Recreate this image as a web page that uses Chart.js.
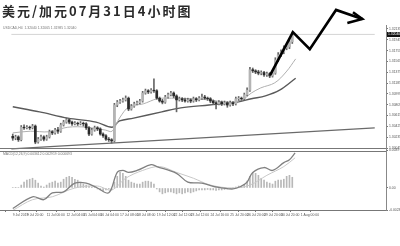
<!DOCTYPE html>
<html>
<head>
<meta charset="utf-8">
<script src="https://cdn.jsdelivr.net/npm/chart.js@4.4.1/dist/chart.umd.min.js"></script>
<style>
html, body { margin: 0; padding: 0; background: #fff; }
#wrap { position: relative; width: 400px; height: 246px; overflow: hidden; }
#title { position: absolute; left: 2px; top: 1px; font-family: "Noto Sans CJK SC"; font-size: 13px; font-weight: bold; letter-spacing: 2px; color: #2a2a2a; white-space: nowrap; }
canvas { position: absolute; left: 0; top: 0; }
</style>
</head>
<body>
<div id="wrap">
  <canvas id="chart" width="400" height="246"></canvas>
  <div id="title">美元/加元07月31日4小时图</div>
</div>
<script>
// H4 candles, USDCAD
const opens = [
  1.3025,1.3022,1.3024,1.3019,1.3041,1.3040,1.3041,1.3040,1.3043,1.3015,
  1.3020,1.3024,1.3020,1.3024,1.3033,1.3031,1.3036,1.3034,1.3045,1.3050,
  1.3054,1.3050,1.3047,1.3048,1.3047,1.3048,1.3047,1.3040,1.3029,1.3036,
  1.3040,1.3038,1.3029,1.3026,1.3020,1.3019,1.3017,1.3080,1.3085,1.3087,
  1.3089,1.3092,1.3073,1.3078,1.3082,1.3084,1.3087,1.3101,1.3105,1.3103,
  1.3106,1.3105,1.3092,1.3087,1.3085,1.3094,1.3098,1.3101,1.3096,1.3089,
  1.3091,1.3089,1.3087,1.3089,1.3087,1.3091,1.3089,1.3092,1.3094,1.3092,
  1.3091,1.3087,1.3084,1.3082,1.3085,1.3082,1.3084,1.3080,1.3084,1.3082,
  1.3091,1.3092,1.3091,1.3098,1.3106,1.3142,1.3140,1.3138,1.3136,1.3137,
  1.3133,1.3135,1.3131,1.3136,1.3159,1.3168,1.3173,1.3180,1.3182,1.3191
];
const highs = [
  1.3029,1.3027,1.3026,1.3044,1.3045,1.3044,1.3043,1.3046,1.3045,1.3023,
  1.3027,1.3026,1.3027,1.3036,1.3035,1.3039,1.3041,1.3048,1.3053,1.3057,
  1.3056,1.3052,1.3051,1.3050,1.3051,1.3050,1.3049,1.3042,1.3039,1.3043,
  1.3042,1.3040,1.3031,1.3028,1.3023,1.3021,1.3083,1.3088,1.3090,1.3092,
  1.3096,1.3094,1.3081,1.3085,1.3087,1.3090,1.3104,1.3108,1.3107,1.3109,
  1.3126,1.3107,1.3094,1.3090,1.3097,1.3101,1.3104,1.3103,1.3098,1.3094,
  1.3093,1.3092,1.3092,1.3091,1.3094,1.3093,1.3095,1.3099,1.3097,1.3094,
  1.3093,1.3089,1.3086,1.3088,1.3087,1.3087,1.3086,1.3087,1.3086,1.3094,
  1.3095,1.3094,1.3101,1.3110,1.3146,1.3145,1.3142,1.3141,1.3140,1.3139,
  1.3138,1.3137,1.3140,1.3163,1.3172,1.3177,1.3184,1.3186,1.3195,1.3208
];
const lows = [
  1.3018,1.3019,1.3016,1.3017,1.3037,1.3038,1.3037,1.3038,1.3012,1.3013,
  1.3018,1.3017,1.3018,1.3022,1.3028,1.3029,1.3030,1.3032,1.3043,1.3048,
  1.3047,1.3044,1.3045,1.3044,1.3045,1.3043,1.3037,1.3026,1.3027,1.3034,
  1.3035,1.3027,1.3023,1.3018,1.3016,1.3013,1.3015,1.3077,1.3083,1.3085,
  1.3087,1.3070,1.3071,1.3076,1.3080,1.3082,1.3085,1.3099,1.3100,1.3101,
  1.3102,1.3090,1.3085,1.3082,1.3083,1.3092,1.3096,1.3093,1.3068,1.3087,
  1.3086,1.3085,1.3085,1.3084,1.3085,1.3086,1.3087,1.3090,1.3090,1.3088,
  1.3084,1.3081,1.3073,1.3080,1.3079,1.3080,1.3076,1.3078,1.3079,1.3080,
  1.3088,1.3088,1.3089,1.3096,1.3104,1.3137,1.3135,1.3133,1.3133,1.3130,
  1.3130,1.3128,1.3129,1.3134,1.3156,1.3165,1.3170,1.3177,1.3179,1.3188
];
const closes = [
  1.3022,1.3024,1.3019,1.3041,1.3040,1.3041,1.3040,1.3043,1.3015,1.3020,
  1.3024,1.3020,1.3024,1.3033,1.3031,1.3036,1.3034,1.3045,1.3050,1.3054,
  1.3050,1.3047,1.3048,1.3047,1.3048,1.3047,1.3040,1.3029,1.3036,1.3040,
  1.3038,1.3029,1.3026,1.3020,1.3019,1.3017,1.3080,1.3085,1.3087,1.3089,
  1.3092,1.3073,1.3078,1.3082,1.3084,1.3087,1.3101,1.3105,1.3103,1.3106,
  1.3105,1.3092,1.3087,1.3085,1.3094,1.3098,1.3101,1.3096,1.3089,1.3091,
  1.3089,1.3087,1.3089,1.3087,1.3091,1.3089,1.3092,1.3094,1.3092,1.3091,
  1.3087,1.3084,1.3082,1.3085,1.3082,1.3084,1.3080,1.3084,1.3082,1.3091,
  1.3092,1.3091,1.3098,1.3106,1.3142,1.3140,1.3138,1.3136,1.3137,1.3133,
  1.3135,1.3131,1.3136,1.3159,1.3168,1.3173,1.3180,1.3182,1.3191,1.3204
];

const maFastIdx = [0, 6.2, 12.8, 19.5, 26.2, 32.8, 35.2, 37.8, 41.2, 46.2, 51.2, 56.2, 62.8, 69.5, 76.2, 81.2, 84.5, 87.8, 92.8, 96.8, 100.2];
const maFastVal = [1.3031, 1.3034, 1.3033, 1.3041, 1.3041, 1.3036, 1.3034, 1.3057, 1.3077, 1.3082, 1.3091, 1.3092, 1.3091, 1.3089, 1.3085, 1.3089, 1.3101, 1.3110, 1.3119, 1.3138, 1.3161];
const maSlowIdx = [0, 9.5, 19.5, 29.5, 35.2, 37.8, 42.8, 52.8, 59.5, 69.5, 79.5, 84.5, 89.5, 94.5, 100.2];
const maSlowVal = [1.3077, 1.3068, 1.3057, 1.3050, 1.3041, 1.3052, 1.3057, 1.3068, 1.3075, 1.3080, 1.3085, 1.3091, 1.3096, 1.3106, 1.3127];

// trend line and current bid
const trendIdx = [-0.5, 128.2];
const trendVal = [1.3003, 1.3040];
const bidPrice = 1.3204;

// hand drawn arrow
const arrowIdx = [91.2, 99.2, 105.2, 114.5, 123.8];
const arrowVal = [1.3133, 1.3208, 1.3178, 1.3247, 1.3231];
const headIdx = [118.5, 123.8, 120.5];
const headVal = [1.3224, 1.3231, 1.3243];

// MACD panel
const macdHist = [
  0.00005,0.00003,0.00005,0.0003,0.0006,0.0008,0.0009,0.0010,0.0008,0.0005,
  0.0002,0.0001,0.0003,0.0005,0.0006,0.0007,0.0005,0.0006,0.0009,0.0011,
  0.0012,0.0011,0.0009,0.0008,0.0006,0.0004,0.0003,0.0002,0.0001,0.00005,
  -0.0001,-0.0002,-0.0003,-0.0002,-0.0001,-0.0002,0.0006,0.0012,0.0016,0.0015,
  0.0012,0.0008,0.0006,0.0005,0.0004,0.0004,0.0006,0.0007,0.0007,0.0006,
  0.0004,-0.0001,-0.0004,-0.0006,-0.0005,-0.0004,-0.0004,-0.0005,-0.0006,-0.0005,
  -0.0006,-0.0005,-0.0004,-0.0005,-0.0004,-0.0003,-0.0002,-0.0002,-0.0002,-0.00015,
  -0.0002,-0.0002,-0.00025,-0.0002,-0.0002,-0.00015,-0.0001,-0.00005,0.00005,0.0001,
  0.0002,0.0002,0.0003,0.0007,0.0012,0.0016,0.0015,0.0013,0.0010,0.0008,
  0.0006,0.0005,0.0004,0.0007,0.0008,0.0008,0.0009,0.0012,0.0013,0.0011
];
const macdIdx = [0, 7, 11, 14, 18, 22, 26, 30, 34, 37, 39, 41, 44, 49, 51, 58, 62, 67, 72, 78, 81, 83, 85, 89, 92, 96, 98, 100];
const macdVal = [-0.0021, -0.0009, -0.0012, -0.0005, -0.0004, 0.0005, 0.0005, 0.0, -0.0005, 0.0016, 0.0018, 0.0016, 0.0018, 0.0024, 0.0022, 0.0015, 0.0006, 0.0005, 0.0001, -0.0001, 0.0002, 0.0006, 0.0016, 0.0021, 0.0018, 0.0026, 0.0029, 0.0036];
const signalIdx = [0, 7, 14, 22, 30, 35, 40, 46, 52, 58, 64, 70, 78, 84, 90, 96, 100];
const signalVal = [-0.0023, -0.0012, -0.0009, 0.0, 0.0002, -0.0002, 0.0010, 0.0018, 0.0022, 0.0016, 0.0010, 0.0003, 0.0, 0.0003, 0.0013, 0.0022, 0.0031];

// axis ticks
const priceTicks = [1.32135, 1.31945, 1.31755, 1.31565, 1.31375, 1.31185, 1.30995, 1.30805, 1.30615, 1.30425, 1.30235, 1.30045];
const macdTicks = [0.0039, 0, -0.00226];
const timeTickIdx = [0, 5, 12, 19, 25, 31, 38, 44, 51, 57, 63, 70, 77, 83, 89, 95, 102];
const timeTickLabels = ['9 Jul 2019', '9 Jul 20:00', '11 Jul 00:00', '12 Jul 04:00', '15 Jul 04:00', '16 Jul 04:00',
  '17 Jul 08:00', '18 Jul 08:00', '19 Jul 12:00', '22 Jul 12:00', '23 Jul 12:00', '24 Jul 16:00',
  '25 Jul 20:00', '26 Jul 20:00', '29 Jul 20:00', '30 Jul 20:00', '1 Aug 00:00'];

const tinyFont = { family: 'Liberation Sans', size: 3.4 };

const toPoints = (xs, ys) => xs.map((x, i) => ({ x: x, y: ys[i] }));
const bull = closes.map((c, i) => c >= opens[i]);

const panelDecor = {
  id: 'panelDecor',
  afterDraw(chart) {
    const ctx = chart.ctx;
    const a = chart.chartArea;
    const ys = chart.scales.y;
    const ms = chart.scales.y2;
    ctx.save();
    ctx.strokeStyle = '#777';
    ctx.lineWidth = 1;
    ctx.beginPath();
    ctx.moveTo(a.left, Math.round(ys.bottom) - 1.5);
    ctx.lineTo(a.right, Math.round(ys.bottom) - 1.5);
    ctx.moveTo(a.left, Math.round(ms.top) + 1.5);
    ctx.lineTo(a.right, Math.round(ms.top) + 1.5);
    ctx.moveTo(a.left, Math.round(ms.bottom) + 0.5);
    ctx.lineTo(a.right, Math.round(ms.bottom) + 0.5);
    ctx.stroke();

    ctx.fillStyle = '#777';
    ctx.font = '3.4px "Liberation Sans"';
    ctx.textBaseline = 'middle';
    ctx.textAlign = 'left';
    ctx.fillText('USDCAD,H4  1.32040 1.32065 1.31985 1.32040', a.left + 3, ys.top + 3);
    ctx.fillText('MACD(12,26,9) 0.003612 0.002919 0.000693', a.left + 3, ms.top + 4.5);

    // bid label on the price axis
    const yb = ys.getPixelForValue(bidPrice);
    ctx.fillStyle = '#111';
    ctx.fillRect(a.right + 1, Math.round(yb) - 2, 13, 5);
    ctx.fillStyle = '#fff';
    ctx.fillText(bidPrice.toFixed(5), a.right + 2, Math.round(yb) + 0.5);
    ctx.restore();
  }
};

new Chart(document.getElementById('chart'), {
  data: {
    datasets: [
      {
        type: 'line', label: 'arrow', yAxisID: 'y', order: 0,
        data: toPoints(arrowIdx, arrowVal),
        borderColor: '#000', borderWidth: 2.6, pointRadius: 0, tension: 0,
        borderJoinStyle: 'miter', clip: false
      },
      {
        type: 'line', label: 'arrow head', yAxisID: 'y', order: 0,
        data: toPoints(headIdx, headVal),
        borderColor: '#000', borderWidth: 2.6, pointRadius: 0, tension: 0,
        borderJoinStyle: 'miter', clip: false
      },
      {
        type: 'bar', label: 'body', yAxisID: 'y', order: 1, grouped: false,
        data: closes.map((c, i) => ({ x: i, y: [opens[i], c] })),
        backgroundColor: bull.map(b => b ? '#b4b4b4' : '#2a2a2a'),
        barThickness: 2
      },
      {
        type: 'bar', label: 'wick', yAxisID: 'y', order: 2, grouped: false,
        data: highs.map((h, i) => ({ x: i, y: [lows[i], h] })),
        backgroundColor: '#666', barThickness: 1
      },
      {
        type: 'line', label: 'MA fast', yAxisID: 'y', order: 3,
        data: toPoints(maFastIdx, maFastVal),
        borderColor: '#b0b0b0', borderWidth: 1, pointRadius: 0, tension: 0.35
      },
      {
        type: 'line', label: 'MA slow', yAxisID: 'y', order: 3,
        data: toPoints(maSlowIdx, maSlowVal),
        borderColor: '#5a5a5a', borderWidth: 1.4, pointRadius: 0, tension: 0.35
      },
      {
        type: 'line', label: 'trend', yAxisID: 'y', order: 4,
        data: toPoints(trendIdx, trendVal),
        borderColor: '#6a6a6a', borderWidth: 1.2, pointRadius: 0
      },
      {
        type: 'line', label: 'bid', yAxisID: 'y', order: 5,
        data: toPoints(trendIdx, [bidPrice, bidPrice]),
        borderColor: '#d4d4d4', borderWidth: 1, pointRadius: 0
      },
      {
        type: 'bar', label: 'hist', yAxisID: 'y2', order: 6, grouped: false,
        data: macdHist.map((v, i) => ({ x: i, y: v })),
        backgroundColor: '#b8b8b8', barThickness: 1
      },
      {
        type: 'line', label: 'MACD', yAxisID: 'y2', order: 2,
        data: toPoints(macdIdx, macdVal),
        borderColor: '#808080', borderWidth: 1.3, pointRadius: 0, tension: 0.35
      },
      {
        type: 'line', label: 'signal', yAxisID: 'y2', order: 3,
        data: toPoints(signalIdx, signalVal),
        borderColor: '#c8c8c8', borderWidth: 1, pointRadius: 0, tension: 0.35
      }
    ]
  },
  options: {
    responsive: false,
    animation: false,
    devicePixelRatio: 1,
    layout: { padding: { top: 25, bottom: 28, left: 0, right: 0 } },
    plugins: { legend: { display: false }, tooltip: { enabled: false }, title: { display: false } },
    scales: {
      x: {
        type: 'linear', min: -0.5, max: 128.17,
        afterFit: s => { s.height = 8; },
        afterBuildTicks: s => { s.ticks = timeTickIdx.map(v => ({ value: v })); },
        grid: { drawOnChartArea: false, drawTicks: true, tickLength: 2, color: '#777' },
        border: { display: true, color: '#888' },
        ticks: {
          font: tinyFont, color: '#555', padding: 1, maxRotation: 0, autoSkip: false, align: 'start',
          callback: v => timeTickLabels[timeTickIdx.indexOf(v)]
        }
      },
      y: {
        type: 'linear', position: 'right', stack: 'panels', stackWeight: 125,
        min: 1.30010, max: 1.32205,
        afterFit: s => { s.width = 14; },
        afterBuildTicks: s => { s.ticks = priceTicks.map(v => ({ value: v })); },
        grid: { drawOnChartArea: false, drawTicks: true, tickLength: 2, color: '#777' },
        border: { display: true, color: '#888' },
        ticks: { font: tinyFont, color: '#555', padding: 1, autoSkip: false, callback: v => v.toFixed(5) }
      },
      y2: {
        type: 'linear', position: 'right', stack: 'panels', stackWeight: 60,
        min: -0.00226, max: 0.0039,
        afterFit: s => { s.width = 14; },
        afterBuildTicks: s => { s.ticks = macdTicks.map(v => ({ value: v })); },
        grid: { drawOnChartArea: false, drawTicks: true, tickLength: 2, color: '#777' },
        border: { display: true, color: '#888' },
        ticks: { font: tinyFont, color: '#555', padding: 1, autoSkip: false, callback: v => v === 0 ? '0.00' : v.toFixed(4) }
      }
    }
  },
  plugins: [panelDecor]
});
</script>
</body>
</html>
